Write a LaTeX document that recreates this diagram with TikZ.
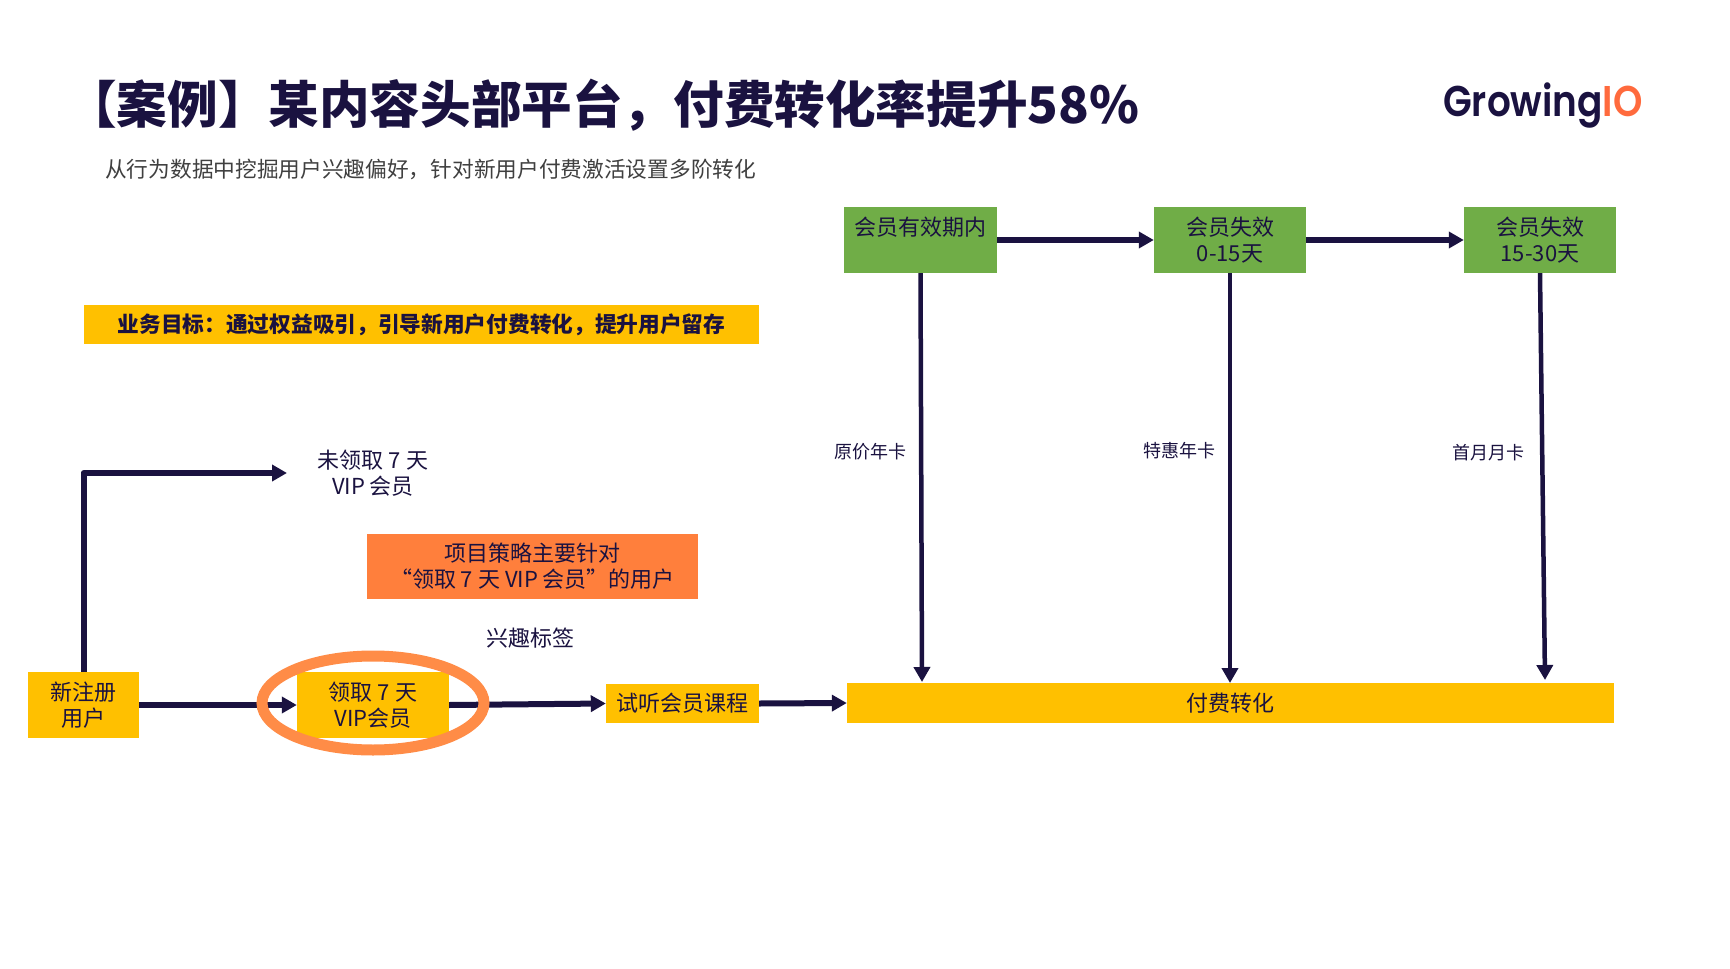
\documentclass[tikz,border=0pt]{standalone}
\usepackage{fontspec}
\usetikzlibrary{arrows.meta,shapes.geometric}
\setmainfont{Noto Sans CJK SC}
\newfontfamily\logofont{Poppins SemiBold}
\definecolor{ink}{HTML}{1A1240}
\definecolor{gold}{HTML}{FFC000}
\definecolor{leaf}{HTML}{70AD47}
\definecolor{tang}{HTML}{FF7F3C}
\definecolor{ring}{HTML}{FF8C47}
\definecolor{logoor}{HTML}{FF6A3D}
\tikzset{
  x=1pt,y=-1pt,
  every node/.style={text=ink,inner sep=0pt,align=center,font=\fontsize{22}{26}\selectfont},
  box/.style={rectangle,minimum width=#1},
  goldbox/.style={box=#1,fill=gold},
  leafbox/.style={box=#1,fill=leaf,minimum height=66pt},
  link/.style={draw=ink,line width=6pt,line join=round,-{Triangle[length=15pt,width=16pt]}},
  drop/.style={draw=ink,line width=4.5pt,-{Triangle[length=15pt,width=16pt]}},
  small/.style={font=\fontsize{18}{22}\selectfont},
}
\begin{document}
\begin{tikzpicture}
\useasboundingbox[fill=white] (0,0) rectangle (1730,969);
\node[anchor=west,font=\fontsize{50.6}{60}\bfseries\selectfont] (title) at (66,105) {【案例】某内容头部平台，付费转化率提升58\%};
\node[anchor=west,text=black!75,font=\fontsize{21.7}{26}\selectfont] (sub) at (105,169) {从行为数据中挖掘用户兴趣偏好，针对新用户付费激活设置多阶转化};
\node[anchor=base west,xscale=0.87,transform shape,font=\fontsize{43}{50}\logofont\selectfont] (logo) at (1443,116) {Growing\textcolor{logoor}{IO}};
\node[goldbox=675pt,minimum height=39pt,font=\fontsize{21.7}{26}\bfseries\selectfont] (goal) at (421.5,324.5) {业务目标：通过权益吸引，引导新用户付费转化，提升用户留存};
\node[goldbox=111pt,minimum height=66pt] (reg) at (83.5,705) {新注册\\用户};
\node[goldbox=152pt,minimum height=66pt] (vip) at (373,705) {领取 7 天\\VIP会员};
\node[goldbox=153pt,minimum height=39pt] (trial) at (682.5,703.5) {试听会员课程};
\node[goldbox=767pt,minimum height=40pt] (pay) at (1230.5,703) {付费转化};
\node[box=331pt,fill=tang,minimum height=65pt] (focus) at (532.5,566.5) {项目策略主要针对\\“领取 7 天 VIP 会员”的用户};
\node (no) at (373,473) {未领取 7 天\\VIP 会员};
\node (tag) at (530,638) {兴趣标签};
\node[leafbox=153pt,text height=50pt,text depth=8pt] (g1) at (920.5,240) {会员有效期内\\\strut};
\node[leafbox=152pt] (g2) at (1230,240) {会员失效\\0-15天};
\node[leafbox=152pt] (g3) at (1540,240) {会员失效\\15-30天};
\node[small] (l1) at (870,452) {原价年卡};
\node[small] (l2) at (1179.5,451) {特惠年卡};
\node[small] (l3) at (1488,453) {首月月卡};
\coordinate (t1) at (922,682);
\coordinate (t2) at (1230,683);
\coordinate (t3) at (1545,680);
\draw[link] (reg.north) |- (no.west -| 287,472);
\draw[link] (reg.east) -- (vip.west);
\draw[link] (vip.east) -- (trial.west);
\draw[link] (trial.east) -- (pay.west);
\draw[link] (g1.east) -- (g2.west);
\draw[link] (g2.east) -- (g3.west);
\draw[drop] (g1.south) -- (t1);
\draw[drop] (g2.south) -- (t2);
\draw[drop] (g3.south) -- (t3);
\node[ellipse,draw=ring,line width=11pt,minimum width=222pt,minimum height=94pt] (circ) at (373,703) {};
\end{tikzpicture}
\end{document}
